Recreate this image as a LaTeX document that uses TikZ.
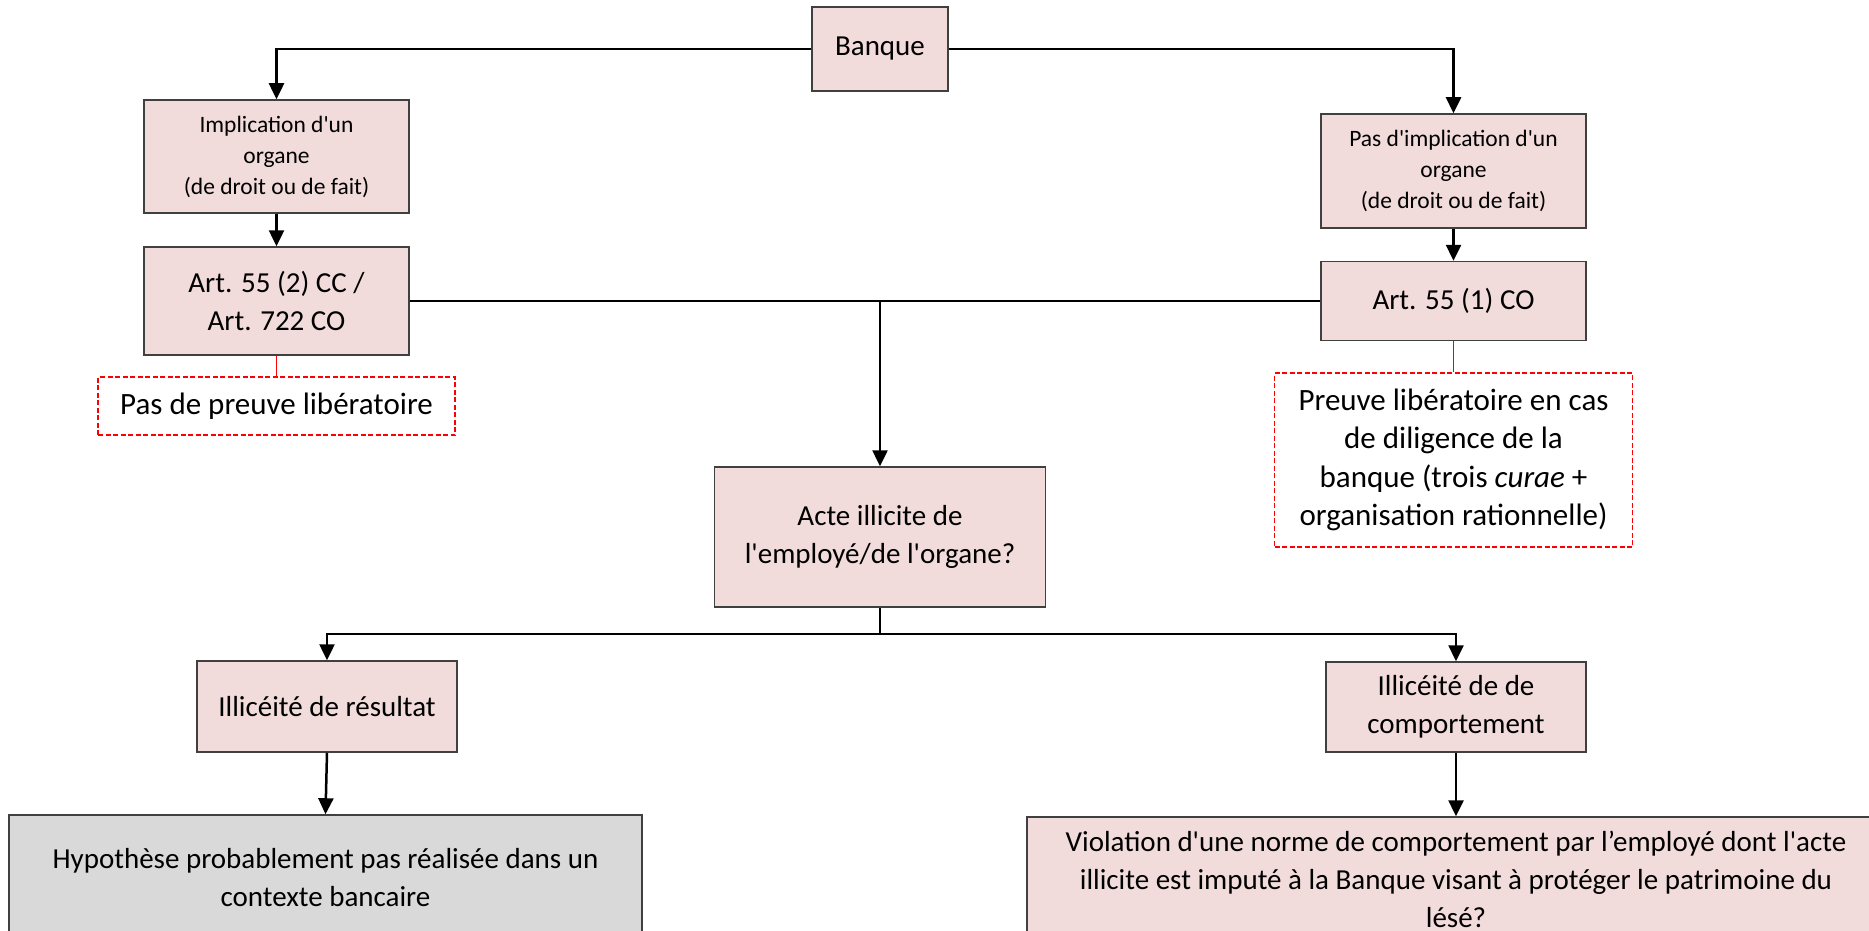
\documentclass[tikz,border=0pt]{standalone}
\usepackage{fontspec}
\setmainfont{Carlito}[Ligatures=TeXOff]
\usetikzlibrary{arrows.meta}
\definecolor{boxpink}{HTML}{F2DCDB}
\definecolor{boxgray}{HTML}{D9D9D9}
\definecolor{boxline}{HTML}{404040}
\tikzset{
  box/.style={draw=boxline, line width=1.5pt, fill=boxpink, inner sep=0pt, align=center,
    font=\fontsize{29}{38}\selectfont},
  smallbox/.style={box, font=\fontsize{23.5}{31}\selectfont},
  graybox/.style={box, fill=boxgray},
  notebox/.style={draw=red, line width=1.5pt, dash pattern=on 5pt off 2.5pt, fill=white,
    inner sep=0pt, align=center, font=\fontsize{31}{38.5}\selectfont},
  conn/.style={line width=2.5pt, black},
  arr/.style={conn, -{Triangle[width=15pt,length=16pt]}},
  redline/.style={red, line width=1.5pt}
}
\begin{document}
\begin{tikzpicture}[x=1pt,y=-1pt]
\useasboundingbox (0,0) rectangle (1869,931);
\clip (0,0) rectangle (1869,931);
% nodes
\node[box, minimum width=136pt, minimum height=84pt] (banque) at (880,49) {Banque};
\node[smallbox, minimum width=265pt, minimum height=113pt] (impl) at (276.5,156.5)
  {Implication d'un\\organe\\(de droit ou de fait)};
\node[box, minimum width=265pt, minimum height=108pt] (art2) at (276.5,301)
  {Art. 55 (2) CC /\\Art. 722 CO};
\node[notebox, minimum width=357pt, minimum height=58pt] (nopreuve) at (276.5,406)
  {Pas de preuve libératoire};
\node[smallbox, minimum width=265pt, minimum height=114pt] (pasimpl) at (1453.5,171)
  {Pas d'implication d'un\\organe\\(de droit ou de fait)};
\node[box, minimum width=265pt, minimum height=79pt] (art1) at (1453.5,301)
  {Art. 55 (1) CO};
\node[notebox, minimum width=358pt, minimum height=174pt] (preuve) at (1453.5,460)
  {Preuve libératoire en cas\\de diligence de la\\banque (trois \textit{curae} +\\organisation rationnelle)};
\node[box, minimum width=331pt, minimum height=140pt] (acte) at (880,537)
  {Acte illicite de\\l'employé/de l'organe?};
\node[box, minimum width=260pt, minimum height=91pt] (resultat) at (327,706.5)
  {Illicéité de résultat};
\node[box, minimum width=260pt, minimum height=90pt] (comport) at (1456,707)
  {Illicéité de de\\comportement};
\node[graybox, minimum width=633pt, minimum height=126pt] (hypo) at (325.5,878)
  {Hypothèse probablement pas réalisée dans un\\contexte bancaire};
\node[box, minimum width=858pt, minimum height=124pt] (viol) at (1456,879)
  {Violation d'une norme de comportement par l’employé dont l'acte\\illicite est imputé à la Banque visant à protéger le patrimoine du\\lésé?};
% coordinates
\coordinate (jtop) at (880,301);
\coordinate (jbot) at (880,634);
% connectors
\draw[arr] (banque.west) -| (impl.north);
\draw[arr] (banque.east) -| (pasimpl.north);
\draw[arr] (impl.south) -- (art2.north);
\draw[arr] (pasimpl.south) -- (art1.north);
\draw[conn] (art2.east) -- (art1.west);
\draw[arr] (jtop) -- (acte.north);
\draw[conn] (acte.south) -- (jbot);
\draw[arr] (jbot) -| (resultat.north);
\draw[arr] (jbot) -| (comport.north);
\draw[arr] (resultat.south) -- (hypo.north);
\draw[arr] (comport.south) -- (viol.north);
\draw[redline] (art2.south) -- (nopreuve.north);
\draw[redline] (art1.south) -- (preuve.north);
\end{tikzpicture}
\end{document}
